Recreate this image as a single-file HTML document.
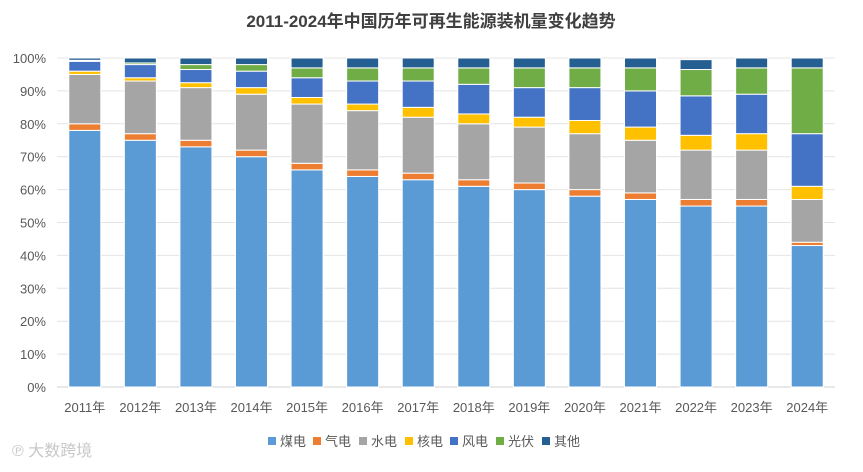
<!DOCTYPE html>
<html><head><meta charset="utf-8"><style>
body{margin:0;background:#fff;font-family:"Liberation Sans","Noto Sans CJK SC",sans-serif;}
svg text{font-family:"Liberation Sans","Noto Sans CJK SC",sans-serif;}
</style></head><body>
<svg id="chart" width="863" height="467" xmlns="http://www.w3.org/2000/svg">
<rect width="863" height="467" fill="#fff"/>
<text x="431" y="27" text-anchor="middle" font-size="17" font-weight="bold" fill="#404040">2011-2024年中国历年可再生能源装机量变化趋势</text>
<g id="grid"></g><g id="bars"></g><g id="axes"></g><g id="legend"></g>
<text x="12" y="456" font-size="16" fill="#c8c8c8">℗ 大数跨境</text>
</svg>
<script>
const categories=["2011年","2012年","2013年","2014年","2015年","2016年","2017年","2018年","2019年","2020年","2021年","2022年","2023年","2024年"];
const seriesNames=["煤电","气电","水电","核电","风电","光伏","其他"];
const coal=[78,75,73,70,66,64,63,61,60,58,57,55,55,43];
const gas=[2,2,2,2,2,2,2,2,2,2,2,2,2,1];
const hydro=[15,16,16,17,18,18,17,17,17,17,16,15,15,13];
const nuclear=[1,1,1.5,2,2,2,3,3,3,4,4,4.5,5,4];
const wind=[3,4,4,5,6,7,8,9,9,10,11,12,12,16];
const solar=[0.3,0.5,1.5,2,3,4,4,5,6,6,7,8,8,20];
const other=[0.7,1.5,2,2,3,3,3,3,3,3,3,3,3,3];
const yTicks=[0,10,20,30,40,50,60,70,80,90,100];
const colors=["#5b9bd5","#ed7d31","#a5a5a5","#ffc000","#4472c4","#70ad47","#255e91"];
const series=[coal,gas,hydro,nuclear,wind,solar,other];
const NS="http://www.w3.org/2000/svg";
const x0=57,x1=835,yTop=58,yBot=387;
const band=(x1-x0)/categories.length,bw=32;
const y=v=>yBot-(v/100)*(yBot-yTop);
const xc=i=>x0+band*(i+0.5);
function mk(t,a,p){const e=document.createElementNS(NS,t);for(const k in a)e.setAttribute(k,a[k]);p.appendChild(e);return e;}
const grid=document.getElementById('grid'),axes=document.getElementById('axes'),bars=document.getElementById('bars'),legend=document.getElementById('legend');
yTicks.forEach(t=>{
 const l=mk('line',{x1:x0,x2:x1,y1:y(t),y2:y(t),stroke:t===0?'#d0d0d0':'#e4e4e4','stroke-width':1},grid);
 
 
 const tx=mk('text',{x:46,y:y(t)+5,'text-anchor':'end','font-size':13,fill:'#595959'},axes);
 tx.textContent=t+'%';
 
 
});
categories.forEach((c,i)=>{
 let acc=0;
 series.forEach((s,j)=>{
  const v=s[i];
  const r=mk('rect',{x:xc(i)-bw/2,y:y(acc+v),width:bw,height:y(acc)-y(acc+v),fill:colors[j],stroke:'#fff','stroke-width':1},bars);
  
  
  acc+=v;
 });
 const tx=mk('text',{x:xc(i),y:412,'text-anchor':'middle','font-size':13,fill:'#595959'},axes);
 tx.textContent=c;
 
 
});
const lx=[268,313,359,405,450,496,542];
seriesNames.forEach((n,j)=>{
 const g=mk('g',{},legend);
 
 
 mk('rect',{x:lx[j],y:437,width:8,height:8,fill:colors[j]},g);
 const t=mk('text',{x:lx[j]+12,y:446,'font-size':13,fill:'#595959'},g);
 t.textContent=n;
});
</script>
</body></html>
